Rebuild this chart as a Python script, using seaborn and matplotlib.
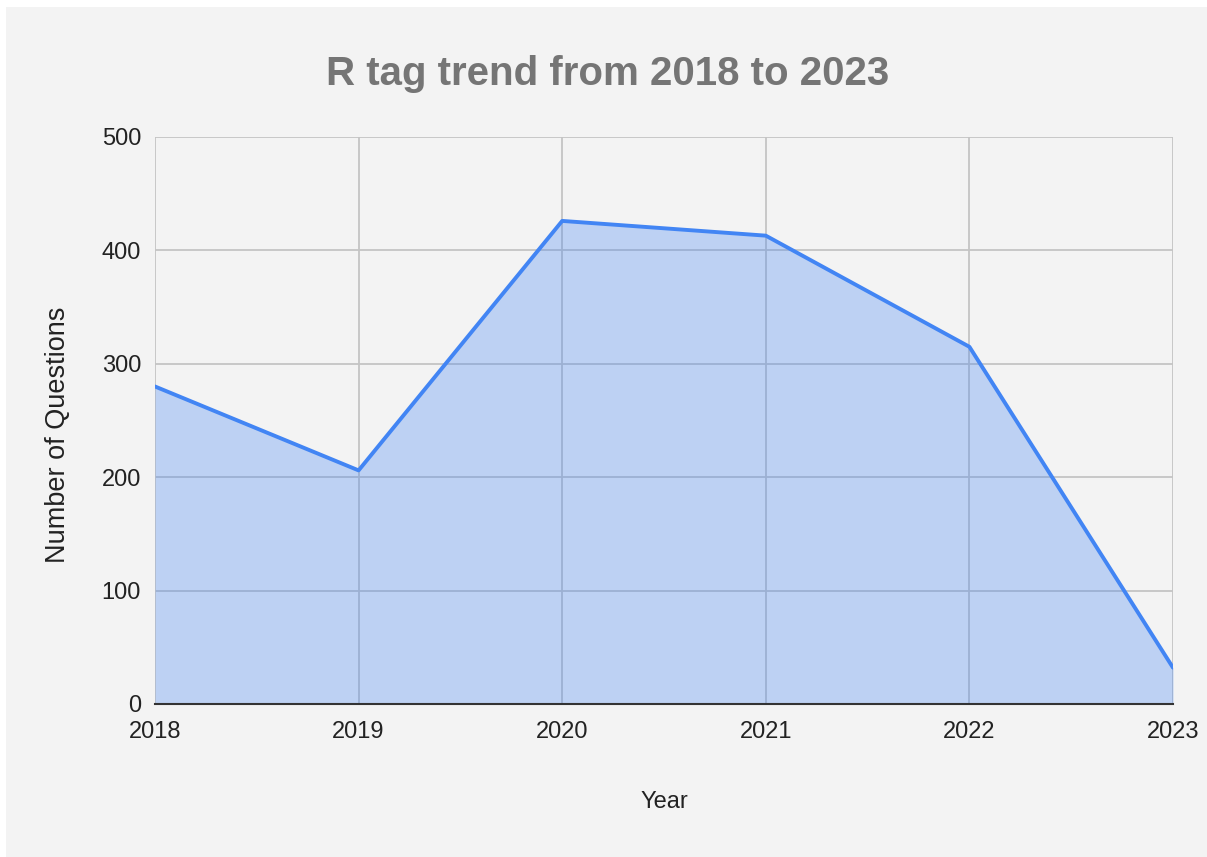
import pandas as pd
import matplotlib.pyplot as plt
import seaborn as sns
from matplotlib.patches import Rectangle

years = [2018, 2019, 2020, 2021, 2022, 2023]
questions = [280, 206, 426, 413, 315, 32]
y_ticks = [0, 100, 200, 300, 400, 500]

BG = '#f3f3f3'
LINE = '#4285f4'


def plot_r_trend(df):
    sns.set_style('whitegrid')
    plt.rcParams['font.family'] = ['Liberation Sans', 'DejaVu Sans']

    fig = plt.figure(figsize=(12.07, 8.57), dpi=100)
    fig.patch.set_facecolor('white')
    fig.patches.append(Rectangle((6 / 1207, 0), 1, 1 - 7 / 857, transform=fig.transFigure,
                                 facecolor=BG, edgecolor='none', zorder=-10))
    ax = fig.add_axes([155 / 1207, 1 - 704 / 857, (1173 - 155) / 1207, (704 - 137) / 857])
    ax.set_facecolor(BG)

    ax.fill_between(df['Year'], df['Questions'], 0, color=LINE, alpha=0.3, lw=0, zorder=3)
    sns.lineplot(x='Year', y='Questions', data=df, ax=ax, color=LINE, lw=2.8, zorder=4)

    ax.set_xlim(years[0], years[-1])
    ax.set_ylim(0, 500)
    ax.set_xticks(years)
    ax.set_xticklabels([str(y) for y in years])
    ax.set_yticks(y_ticks)
    ax.grid(True, color='#c4c4c4', lw=1.3, zorder=1)
    ax.set_axisbelow(True)
    for side in ['top', 'left', 'right']:
        ax.spines[side].set_visible(False)
    ax.spines['bottom'].set_color('#333333')
    ax.spines['bottom'].set_linewidth(1.5)
    ax.spines['bottom'].set_zorder(5)

    ax.tick_params(axis='both', length=0, labelsize=17, labelcolor='#222222')
    ax.tick_params(axis='x', pad=12)
    ax.tick_params(axis='y', pad=10)

    # title is centred on the whole figure, not the axes
    fig.text(608 / 1207, 1 - 85 / 857, 'R tag trend from 2018 to 2023', fontsize=29,
             fontweight='bold', color='#757575', ha='center', va='baseline')
    ax.set_xlabel('Year', fontsize=17, color='#222222', labelpad=35)
    ax.set_ylabel('Number of Questions', fontsize=19.5, color='#222222')
    ax.yaxis.set_label_coords(-0.083, 0.474)

    fig.savefig('out.png', dpi=100, facecolor=fig.get_facecolor())
    plt.close(fig)


def main():
    df = pd.DataFrame({'Year': years, 'Questions': questions})
    plot_r_trend(df)


if __name__ == "__main__":
    main()
